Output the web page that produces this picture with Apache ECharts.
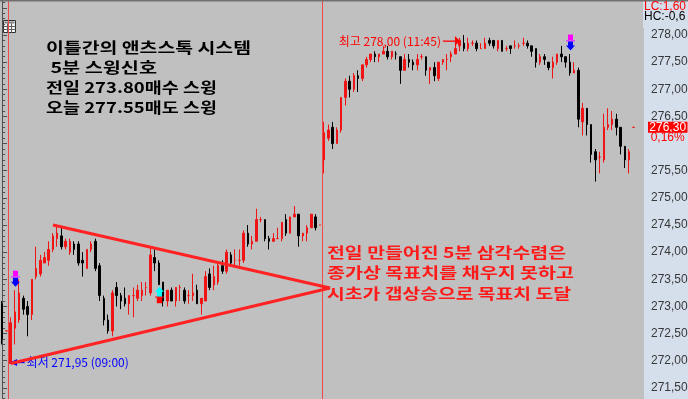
<!DOCTYPE html>
<html>
<head>
<meta charset="utf-8">
<script src="https://cdn.jsdelivr.net/npm/echarts@6/dist/echarts.min.js"></script>
<style>
  html, body { margin: 0; padding: 0; background: #c0c0c0; }
  #chart { width: 688px; height: 399px; }
</style>
</head>
<body>
<div id="chart"></div>
<script>
// 5-minute bars, each row is [open, close, low, high]
const prevDayBars = [
  [273.05, 272.40, 272.30, 273.10],
  [272.55, 272.55, 272.55, 272.55]
];

const day1Bars = [
  [271.95, 272.70, 271.95, 272.80],
  [272.60, 272.90, 272.30, 273.30],
  [272.75, 273.25, 272.70, 273.50],
  [273.15, 272.95, 272.85, 273.20],
  [273.00, 272.85, 272.45, 273.10],
  [272.85, 273.50, 272.75, 273.50],
  [273.55, 273.70, 273.50, 274.10],
  [273.60, 273.85, 273.55, 273.95],
  [273.80, 273.90, 273.80, 274.00],
  [273.85, 274.05, 273.75, 274.20],
  [274.05, 274.30, 274.00, 274.35],
  [274.25, 274.35, 274.10, 274.50],
  [274.30, 274.10, 274.05, 274.45],
  [274.10, 274.20, 274.05, 274.25],
  [274.00, 274.20, 273.95, 274.25],
  [274.15, 274.05, 273.95, 274.20],
  [274.15, 273.80, 273.75, 274.20],
  [273.85, 273.80, 273.55, 274.00],
  [273.70, 274.05, 273.70, 274.05],
  [274.05, 274.15, 274.00, 274.20],
  [274.20, 273.70, 273.65, 274.25],
  [273.75, 273.20, 273.10, 273.80],
  [273.15, 272.75, 272.65, 273.20],
  [272.75, 272.55, 272.50, 272.85],
  [272.55, 273.25, 272.45, 273.30],
  [273.35, 273.20, 273.00, 273.45],
  [273.20, 273.10, 272.95, 273.25],
  [273.15, 273.05, 273.00, 273.35],
  [273.05, 273.20, 272.85, 273.20],
  [273.20, 273.20, 272.80, 273.35],
  [273.15, 273.30, 273.10, 273.40],
  [273.20, 273.30, 273.10, 273.45],
  [273.35, 273.35, 273.20, 273.45],
  [273.25, 273.95, 273.20, 274.10],
  [273.90, 273.80, 273.65, 274.05],
  [273.80, 273.40, 273.40, 273.85],
  [273.45, 273.10, 273.00, 273.45],
  [273.10, 273.30, 273.00, 273.30],
  [273.30, 273.10, 273.10, 273.35],
  [273.10, 273.35, 273.00, 273.35],
  [273.35, 273.35, 273.10, 273.40],
  [273.30, 273.10, 273.05, 273.35],
  [273.20, 273.20, 273.05, 273.30],
  [273.20, 273.25, 273.10, 273.60],
  [273.30, 273.05, 273.05, 273.40],
  [273.05, 273.15, 272.85, 273.15],
  [273.10, 273.55, 273.10, 273.65],
  [273.60, 273.35, 273.30, 273.70],
  [273.40, 273.55, 273.30, 273.75],
  [273.45, 273.75, 273.40, 273.80],
  [273.75, 273.65, 273.60, 273.85],
  [273.65, 274.00, 273.60, 274.05],
  [273.95, 273.80, 273.75, 274.00],
  [273.85, 273.85, 273.75, 274.05],
  [273.85, 273.85, 273.75, 274.05],
  [273.85, 274.35, 273.80, 274.40],
  [274.35, 274.15, 274.10, 274.50],
  [274.15, 274.20, 274.05, 274.30],
  [274.20, 274.60, 274.20, 274.80],
  [274.60, 274.60, 274.55, 274.65],
  [274.60, 274.25, 274.20, 274.60],
  [274.25, 274.20, 274.05, 274.30],
  [274.20, 274.25, 274.20, 274.35],
  [274.25, 274.25, 274.25, 274.45],
  [274.25, 274.55, 274.20, 274.55],
  [274.60, 274.35, 274.30, 274.70],
  [274.35, 274.65, 274.35, 274.65],
  [274.65, 274.70, 274.65, 274.85],
  [274.70, 274.30, 274.10, 274.70],
  [274.30, 274.35, 274.20, 274.35],
  [274.35, 274.45, 274.20, 274.50],
  [274.45, 274.70, 274.45, 274.70],
  [274.65, 274.45, 274.40, 274.70],
  [274.50, 274.50, 274.50, 274.50]
];

const day2Bars = [
  [275.70, 276.20, 275.45, 276.40],
  [276.10, 276.25, 276.05, 276.35],
  [276.30, 276.00, 275.90, 276.40],
  [276.00, 276.25, 276.00, 276.30],
  [276.25, 276.85, 276.20, 276.85],
  [276.85, 277.15, 276.70, 277.20],
  [277.15, 277.00, 276.85, 277.25],
  [277.00, 277.25, 276.95, 277.30],
  [277.25, 277.20, 276.95, 277.35],
  [277.20, 277.45, 277.15, 277.45],
  [277.45, 277.55, 277.40, 277.60],
  [277.55, 277.65, 277.50, 277.65],
  [277.65, 277.60, 277.50, 277.70],
  [277.60, 277.65, 277.50, 277.65],
  [277.65, 277.70, 277.65, 277.80],
  [277.70, 277.60, 277.55, 277.80],
  [277.60, 277.70, 277.55, 277.70],
  [277.65, 277.65, 277.55, 277.70],
  [277.60, 277.35, 277.10, 277.60],
  [277.35, 277.55, 277.35, 277.65],
  [277.55, 277.50, 277.40, 277.65],
  [277.50, 277.45, 277.35, 277.55],
  [277.45, 277.55, 277.35, 277.65],
  [277.60, 277.60, 277.55, 277.65],
  [277.60, 277.35, 277.25, 277.60],
  [277.35, 277.40, 277.10, 277.40],
  [277.40, 277.25, 277.15, 277.50],
  [277.20, 277.50, 277.15, 277.50],
  [277.50, 277.55, 277.45, 277.55],
  [277.55, 277.55, 277.35, 277.65],
  [277.60, 277.65, 277.50, 277.70],
  [277.65, 277.75, 277.65, 277.85],
  [277.80, 277.90, 277.70, 277.95],
  [277.85, 277.75, 277.70, 278.00],
  [277.75, 277.85, 277.70, 277.95],
  [277.85, 277.85, 277.80, 277.90],
  [277.85, 277.75, 277.70, 277.90],
  [277.75, 277.75, 277.75, 277.85],
  [277.75, 277.85, 277.75, 277.95],
  [277.90, 277.85, 277.80, 277.95],
  [277.90, 277.80, 277.75, 277.90],
  [277.75, 277.90, 277.70, 277.90],
  [277.90, 277.70, 277.70, 277.90],
  [277.75, 277.75, 277.70, 277.80],
  [277.80, 277.75, 277.65, 277.80],
  [277.80, 277.80, 277.75, 277.90],
  [277.80, 277.80, 277.75, 277.85],
  [277.85, 277.85, 277.80, 277.95],
  [277.85, 277.80, 277.75, 277.90],
  [277.80, 277.70, 277.60, 277.80],
  [277.75, 277.50, 277.40, 277.75],
  [277.50, 277.60, 277.45, 277.65],
  [277.60, 277.55, 277.45, 277.65],
  [277.50, 277.40, 277.35, 277.50],
  [277.40, 277.50, 277.20, 277.60],
  [277.50, 277.65, 277.45, 277.65],
  [277.65, 277.60, 277.50, 277.80],
  [277.60, 277.50, 277.40, 277.60],
  [277.50, 277.30, 277.25, 277.65],
  [277.30, 277.35, 277.30, 277.50],
  [277.35, 276.45, 276.30, 277.40],
  [276.40, 276.65, 276.15, 276.75],
  [276.65, 276.35, 276.15, 276.65],
  [276.35, 275.80, 275.65, 276.35],
  [275.85, 275.70, 275.30, 275.90],
  [275.75, 275.75, 275.45, 275.85],
  [275.70, 276.30, 275.65, 276.55],
  [276.30, 276.35, 276.25, 276.65],
  [276.35, 276.45, 276.25, 276.60],
  [276.45, 276.30, 276.15, 276.55],
  [276.30, 275.95, 275.80, 276.30],
  [275.95, 275.70, 275.55, 275.95],
  [275.70, 275.85, 275.45, 275.90],
  [276.30, 276.30, 276.30, 276.30]
];

// bar positions (index into the combined series) of the swing signals
const sellSignalIdx = [3, 134];
const buySignalIdx = [37];

// converging trend lines of the triangle: [bar index, price]
const triangleUpper = [[12, 274.50], [77.4, 273.34]];
const triangleLower = [[2, 271.95], [77.4, 273.34]];

// price axis
const priceMin = 271.0;
const priceMax = 278.645;
const priceStep = 0.5;

const noteLines = ['이틀간의 앤츠스톡 시스템', ' 5분 스윙신호', '전일 273.80매수 스윙', '오늘 277.55매도 스윙'];
const commentLines = ['전일 만들어진 5분 삼각수렴은', '종가상 목표치를 채우지 못하고', '시초가 갭상승으로 목표치 도달'];
const lcText = 'LC:1,60';
const hcText = 'HC:-0,6';
const changeText = '0,16%';

// ---- categories: session times of three consecutive days ----
const pad = n => (n < 10 ? '0' : '') + n;
const sessionTimes = [];
for (let m = 9 * 60; m <= 15 * 60 + 5; m += 5) sessionTimes.push(pad(Math.floor(m / 60)) + ':' + pad(m % 60));
const prevTimes = sessionTimes.slice(-prevDayBars.length);
const categories = [].concat(
  prevTimes.map(t => 'D0 ' + t),
  sessionTimes.map(t => 'D1 ' + t),
  sessionTimes.map(t => 'D2 ' + t),
  ['+1', '+2']
);
const allBars = [].concat(prevDayBars, day1Bars, day2Bars);
const day1Start = prevDayBars.length;
const day2Start = day1Start + day1Bars.length;
const lastPrice = allBars[allBars.length - 1][1];

const RED = '#f01414';
const fmtPrice = v => v.toFixed(2).replace('.', ',');

const signalMarks = [].concat(
  sellSignalIdx.map(i => [i, allBars[i][3], 1]),
  buySignalIdx.map(i => [i, allBars[i][2], 0])
);

function renderSignal(params, api) {
  const p = api.coord([api.value(0), api.value(1)]);
  const cx = Math.round(p[0]) + 0.5, cy = p[1];
  if (api.value(2) === 1) {
    const t = cy - 3.5;
    return { type: 'group', children: [
      { type: 'rect', shape: { x: cx - 2.5, y: t - 16, width: 5, height: 6.5 }, style: { fill: '#ff00ff' } },
      { type: 'rect', shape: { x: cx - 4.5, y: t - 10.5, width: 9, height: 1.5 }, style: { fill: '#e040ff' } },
      { type: 'polygon', shape: { points: [[cx - 2.5, t - 9], [cx + 2.5, t - 9], [cx + 2.5, t - 5], [cx + 4.5, t - 5], [cx, t], [cx - 4.5, t - 5], [cx - 2.5, t - 5]] }, style: { fill: '#0000ff' } }
    ] };
  }
  const t = cy + 2;
  return { type: 'group', children: [
    { type: 'polygon', shape: { points: [[cx, t], [cx + 4.5, t + 5], [cx + 2.5, t + 5], [cx + 2.5, t + 10.5], [cx - 2.5, t + 10.5], [cx - 2.5, t + 5], [cx - 4.5, t + 5]] }, style: { fill: '#00ffff' } },
    { type: 'rect', shape: { x: cx - 4.5, y: t + 9.8, width: 9, height: 1 }, style: { fill: '#ff0000' } },
    { type: 'rect', shape: { x: cx - 2.7, y: t + 10.5, width: 5.4, height: 6 }, style: { fill: '#ff0000' } }
  ] };
}

const chart = echarts.init(document.getElementById('chart'));

// plot area: 0..644 wide, price scale runs past the bottom edge of the window
chart.setOption({
  animation: false,
  backgroundColor: '#d5dfec',
  grid: {
    left: 0, top: 0, width: 644, height: 415.03, outerBoundsMode: 'none', containLabel: false,
    show: true, backgroundColor: '#c0c0c0', borderWidth: 0
  },
  xAxis: [
    { type: 'category', data: categories, boundaryGap: true,
      axisLine: { show: false }, axisTick: { show: false }, axisLabel: { show: false }, splitLine: { show: false } },
    { type: 'value', min: -0.5, max: categories.length - 0.5, show: false }
  ],
  yAxis: {
    type: 'value', position: 'right', min: priceMin, max: priceMax, interval: priceStep,
    axisLine: { show: true, lineStyle: { color: '#505050', width: 1 } },
    axisTick: { show: true, length: 5, lineStyle: { color: '#505050' } },
    minorTick: { show: true, splitNumber: 5, length: 3, lineStyle: { color: '#505050' } },
    splitLine: { show: false },
    axisLabel: {
      margin: 7, color: '#383838', fontSize: 12, fontFamily: 'Liberation Sans', showMaxLabel: false,
      formatter: v => (v > lastPrice - 0.4 && v < lastPrice) ? '' : fmtPrice(v)
    }
  },
  series: [
    {
      type: 'candlestick', data: allBars, barWidth: 2, silent: true,
      itemStyle: { color: RED, color0: '#000000', borderColor: RED, borderColor0: '#000000', borderWidth: 1 }
    },
    {
      type: 'custom', data: signalMarks, renderItem: renderSignal, z: 5, silent: true,
      encode: { x: 0, y: 1 }, clip: false
    },
    {
      type: 'line', xAxisIndex: 1, data: triangleUpper, showSymbol: false, silent: true, z: 20,
      lineStyle: { color: '#ff2222', width: 3 },
      markLine: {
        silent: true, symbol: 'none', label: { show: false },
        lineStyle: { color: '#f04848', width: 1, type: 'solid' },
        data: [{ xAxis: day1Start - 0.5 }, { xAxis: day2Start - 0.5 }]
      }
    },
    {
      type: 'line', xAxisIndex: 1, data: triangleLower, showSymbol: false, silent: true, z: 20,
      lineStyle: { color: '#ff2222', width: 3 }
    }
  ]
});

// ---- annotations anchored to the bars ----
const toPx = (i, v) => chart.convertToPixel({ xAxisIndex: 0, yAxisIndex: 0 }, [i, v]);

let hiIdx = day2Start;
day2Bars.forEach((b, k) => { if (b[3] > allBars[hiIdx][3]) hiIdx = day2Start + k; });
let loIdx = day1Start;
day1Bars.forEach((b, k) => { if (b[2] < allBars[loIdx][2]) loIdx = day1Start + k; });

const hi = toPx(hiIdx, allBars[hiIdx][3]);
const lo = toPx(loIdx, allBars[loIdx][2]);
const cur = toPx(allBars.length - 1, lastPrice);

const hiText = '최고 ' + fmtPrice(allBars[hiIdx][3]) + ' (' + categories[hiIdx].slice(3) + ')';
const loText = '최저 ' + fmtPrice(allBars[loIdx][2]) + ' (' + categories[loIdx].slice(3) + ')';

const bigFont = 'bold 15px "Noto Sans CJK KR"';
const smallFont = '12px "Noto Sans CJK KR"';
const axisFont = '12px "Liberation Sans"';

// horizontal stretch so each text line spans its box width (bitmap-style wide glyphs)
const measureCtx = document.createElement('canvas').getContext('2d');
function fitScale(text, font, width) {
  measureCtx.font = font;
  return width / measureCtx.measureText(text).width;
}

function txt(x, y, text, font, fill, opts) {
  opts = opts || {};
  const el = {
    type: 'text', x: x, y: y, z: opts.z || 10, silent: true,
    style: {
      text: text, font: font, fill: fill,
      textAlign: opts.align || 'left', align: opts.align || 'left',
      textVerticalAlign: 'middle', verticalAlign: 'middle'
    }
  };
  if (opts.scaleX) el.scaleX = opts.scaleX;
  return el;
}

const graphics = [];
// top border
graphics.push({ type: 'rect', shape: { x: 0, y: 0, width: 688, height: 1.5 }, style: { fill: '#707070' }, z: 30 });
// axis panel header (covers the axis above the top price)
graphics.push({ type: 'rect', shape: { x: 643, y: 1.5, width: 45, height: 26.5 }, style: { fill: '#d5dfec' }, z: 25 });
graphics.push(txt(644, 7, lcText, axisFont, '#ff0000', { z: 40 }));
graphics.push(txt(644, 16.5, hcText, axisFont, '#000000', { z: 40 }));
// table icon
graphics.push({ type: 'group', x: 3.5, y: 20.5, z: 30, children: [
  { type: 'rect', shape: { x: 0, y: 0, width: 12, height: 12 }, style: { fill: '#f4f4f4', stroke: '#303030', lineWidth: 1 } },
  { type: 'rect', shape: { x: 1, y: 1, width: 10, height: 2 }, style: { fill: '#808080' } },
  { type: 'line', shape: { x1: 4, y1: 3, x2: 4, y2: 12 }, style: { stroke: '#606060', lineWidth: 1 } },
  { type: 'line', shape: { x1: 8, y1: 3, x2: 8, y2: 12 }, style: { stroke: '#606060', lineWidth: 1 } },
  { type: 'line', shape: { x1: 0, y1: 6, x2: 12, y2: 6 }, style: { stroke: '#606060', lineWidth: 1 } },
  { type: 'line', shape: { x1: 0, y1: 9, x2: 12, y2: 9 }, style: { stroke: '#606060', lineWidth: 1 } }
] });
// note block
const noteY = [47, 67, 87, 107];
const noteW = [205, 111, 171, 171];
noteLines.forEach((t, k) => graphics.push(txt(46, noteY[k], t, bigFont, '#000000', { scaleX: fitScale(t, bigFont, noteW[k]) })));
// comment block
const commentY = [252, 272.5, 293];
const commentW = [239, 247, 244];
commentLines.forEach((t, k) => graphics.push(txt(327, commentY[k], t, bigFont, '#ff1a1a', { scaleX: fitScale(t, bigFont, commentW[k]) })));
// session high label with arrow
graphics.push(txt(hi[0] - 23, hi[1] + 6, hiText, smallFont, '#ff0000', { align: 'right' }));
graphics.push({ type: 'rect', z: 10, shape: { x: hi[0] - 21, y: hi[1] + 5.5, width: 13, height: 1.3 }, style: { fill: '#ff0000' } });
graphics.push({ type: 'polygon', z: 10, shape: { points: [[hi[0] - 9, hi[1] + 1], [hi[0] - 4, hi[1] + 6], [hi[0] - 9, hi[1] + 11]] }, style: { fill: '#ff0000' } });
// session low label with arrow
graphics.push(txt(lo[0] + 16, lo[1] - 1.5, loText, smallFont, '#0000ff'));
graphics.push({ type: 'polygon', z: 10, shape: { points: [[lo[0] - 0.5, lo[1] - 1], [lo[0] + 6.5, lo[1] - 4.5], [lo[0] + 6.5, lo[1] + 2.5]] }, style: { fill: '#0000ff' } });
graphics.push({ type: 'rect', z: 10, shape: { x: lo[0] + 6, y: lo[1] - 1.6, width: 8, height: 1.3 }, style: { fill: '#0000ff' } });
// current price tag
graphics.push({ type: 'rect', z: 12, shape: { x: 648, y: cur[1] - 5.5, width: 39.5, height: 11 }, style: { fill: '#ff0000' } });
graphics.push(txt(667.7, cur[1] + 0.5, fmtPrice(lastPrice), axisFont, '#ffffff', { z: 13, align: 'center' }));
graphics.push(txt(667.7, cur[1] + 10.5, changeText, axisFont, '#ff0000', { z: 13, align: 'center' }));

chart.setOption({ graphic: graphics });
</script>
</body>
</html>
